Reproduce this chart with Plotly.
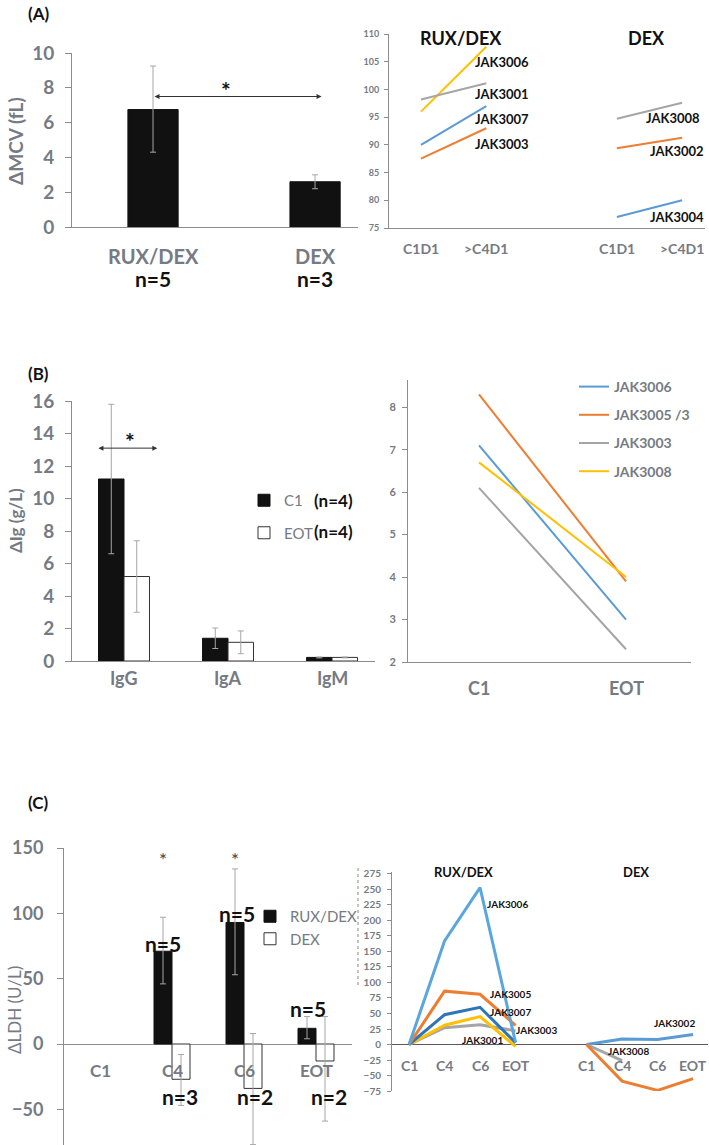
import plotly.graph_objects as go

# ------------------------------------------------------------------ data
# (A) left: change in MCV by arm
mcv_groups = ["RUX/DEX", "DEX"]
mcv_n = ["n=5", "n=3"]
mcv_mean = [6.75, 2.6]
mcv_err_plus = [2.5, 0.4]
mcv_err_minus = [2.45, 0.4]

# (A) right: MCV per patient
mcv_times = ["C1D1", ">C4D1"]
mcv_rux_patients = ["JAK3006", "JAK3001", "JAK3007", "JAK3003"]
mcv_rux_c1d1 = [96.0, 98.2, 90.0, 87.5]
mcv_rux_c4d1 = [107.7, 101.1, 97.0, 93.0]
mcv_dex_patients = ["JAK3008", "JAK3002", "JAK3004"]
mcv_dex_c1d1 = [94.7, 89.4, 77.0]
mcv_dex_c4d1 = [97.6, 91.3, 80.0]
mcv_arm_titles = ["RUX/DEX", "DEX"]

# (B) left: change in immunoglobulins
ig_classes = ["IgG", "IgA", "IgM"]
ig_c1 = [11.2, 1.4, 0.22]
ig_c1_err = [4.6, 0.63, 0.03]
ig_eot = [5.2, 1.15, 0.22]
ig_eot_err = [2.2, 0.7, 0.03]
ig_series = ["C1", "EOT"]
ig_series_n = ["(n=4)", "(n=4)"]

# (B) right: Ig per patient
ig_times = ["C1", "EOT"]
ig_patients = ["JAK3006", "JAK3005 /3", "JAK3003", "JAK3008"]
ig_patient_c1 = [7.1, 8.3, 6.1, 6.7]
ig_patient_eot = [3.0, 3.9, 2.3, 4.0]

# (C) left: change in LDH
ldh_visits = ["C1", "C4", "C6", "EOT"]
ldh_rux = [None, 71, 93, 12]
ldh_rux_plus = [None, 26, 41, 9]
ldh_rux_minus = [None, 25, 40, 8]
ldh_dex = [None, -27, -34, -13]
ldh_dex_plus = [None, 19, 42, 34]
ldh_dex_minus = [None, 20, 43, 46]
ldh_rux_n = [None, "n=5", "n=5", "n=5"]
ldh_dex_n = [None, "n=3", "n=2", "n=2"]
ldh_signif = [False, True, True, False]
ldh_series = ["RUX/DEX", "DEX"]

# (C) right: LDH per patient
ldh_rux_patients = ["JAK3003", "JAK3001", "JAK3007", "JAK3005", "JAK3006"]
ldh_rux_values = [
    [0, 27, 32, 22],
    [0, 31, 45, -3],
    [0, 48, 60, 3],
    [0, 86, 81, 31],
    [0, 167, 253, 3],
]
ldh_dex_patients = ["JAK3002", "JAK3008", "JAK3004"]
ldh_dex_values = [
    [0, 9, 8, 16],
    [0, -26],
    [0, -59, -74, -55],
]

# ------------------------------------------------------------------ styling / layout helpers
W, H = 709, 1145
FONT = "Lato"
GRAY = "#757a83"
AXC = "#8c8c8c"
BLACK = "#111111"
BLUE = "#5B9BD5"
LBLUE = "#5BA6DC"
DBLUE = "#2E75B6"
ORANGE = "#ED7D31"
LGRAY = "#A5A5A5"
YELLOW = "#FFC000"


def fx(px):
    return px / W


def fy(py):
    return 1 - py / H


ERR = dict(color="#a6a6a6", thickness=1, width=3)

fig = go.Figure()

# ---------------- (A) left
mcv_x = list(range(len(mcv_groups)))
fig.add_trace(go.Bar(
    x=mcv_x, y=mcv_mean, width=0.31,
    marker=dict(color=BLACK, line=dict(color=BLACK, width=1)),
    error_y=dict(type="data", symmetric=False, array=mcv_err_plus,
                 arrayminus=mcv_err_minus, **ERR),
    xaxis="x", yaxis="y", showlegend=False))

# ---------------- (A) right
a_rux_x = [0, 1]
a_dex_x = [3, 4]
rux_cols = [YELLOW, LGRAY, BLUE, ORANGE]
dex_cols = [LGRAY, ORANGE, BLUE]
for i, p in enumerate(mcv_rux_patients):
    fig.add_trace(go.Scatter(x=a_rux_x, y=[mcv_rux_c1d1[i], mcv_rux_c4d1[i]],
                             mode="lines", line=dict(color=rux_cols[i], width=2),
                             xaxis="x2", yaxis="y2", showlegend=False, name=p))
for i, p in enumerate(mcv_dex_patients):
    fig.add_trace(go.Scatter(x=a_dex_x, y=[mcv_dex_c1d1[i], mcv_dex_c4d1[i]],
                             mode="lines", line=dict(color=dex_cols[i], width=2),
                             xaxis="x2", yaxis="y2", showlegend=False, name=p))

# ---------------- (B) left
ig_x = list(range(len(ig_classes)))
fig.add_trace(go.Bar(
    x=ig_x, y=ig_c1, width=0.245, offset=-0.245, name=ig_series[0],
    marker=dict(color=BLACK, line=dict(color=BLACK, width=1)),
    error_y=dict(type="data", array=ig_c1_err, **ERR),
    xaxis="x3", yaxis="y3", legend="legend", legendgroup="c1"))
fig.add_trace(go.Bar(
    x=ig_x, y=ig_eot, width=0.245, offset=0, name=ig_series[1],
    marker=dict(color="white", line=dict(color="#333333", width=1)),
    error_y=dict(type="data", array=ig_eot_err, **ERR),
    xaxis="x3", yaxis="y3", legend="legend", legendgroup="eot"))

# ---------------- (B) right
b_cols = [BLUE, ORANGE, LGRAY, YELLOW]
b_x = [0, 1]
for i, p in enumerate(ig_patients):
    fig.add_trace(go.Scatter(x=b_x, y=[ig_patient_c1[i], ig_patient_eot[i]],
                             mode="lines", line=dict(color=b_cols[i], width=2),
                             name=p, xaxis="x4", yaxis="y4", legend="legend2",
                             legendgroup=p))

# ---------------- (C) left
ldh_x = list(range(len(ldh_visits)))
fig.add_trace(go.Bar(
    x=ldh_x, y=ldh_rux, width=0.25, offset=-0.25, name=ldh_series[0],
    marker=dict(color=BLACK, line=dict(color=BLACK, width=1)),
    error_y=dict(type="data", symmetric=False, array=ldh_rux_plus,
                 arrayminus=ldh_rux_minus, **ERR),
    xaxis="x5", yaxis="y5", legend="legend3", legendgroup="rux"))
fig.add_trace(go.Bar(
    x=ldh_x, y=ldh_dex, width=0.25, offset=0, name=ldh_series[1],
    marker=dict(color="white", line=dict(color="#333333", width=1)),
    error_y=dict(type="data", symmetric=False, array=ldh_dex_plus,
                 arrayminus=ldh_dex_minus, **ERR),
    xaxis="x5", yaxis="y5", legend="legend3", legendgroup="dex"))

# ---------------- (C) right
c_rux_x = [0, 1, 2, 3]
c_dex_x = [5, 6, 7, 8]
c_rux_cols = {"JAK3003": LGRAY, "JAK3001": YELLOW, "JAK3007": DBLUE,
              "JAK3005": ORANGE, "JAK3006": LBLUE}
c_dex_cols = {"JAK3002": BLUE, "JAK3008": LGRAY, "JAK3004": ORANGE}
for p, vals in zip(ldh_rux_patients, ldh_rux_values):
    fig.add_trace(go.Scatter(x=c_rux_x[:len(vals)], y=vals, mode="lines",
                             line=dict(color=c_rux_cols[p], width=3),
                             name=p, xaxis="x6", yaxis="y6", showlegend=False))
for p, vals in zip(ldh_dex_patients, ldh_dex_values):
    fig.add_trace(go.Scatter(x=c_dex_x[:len(vals)], y=vals, mode="lines",
                             line=dict(color=c_dex_cols[p], width=3),
                             name=p, xaxis="x6", yaxis="y6", showlegend=False))


# ------------------------------------------------------------------ axes
def xax(d0, d1, rng, anchor, showline=True):
    return dict(domain=[fx(d0), fx(d1)], range=rng, anchor=anchor,
                showline=showline, linecolor=AXC, linewidth=1,
                showticklabels=False, ticks="", showgrid=False,
                zeroline=False, fixedrange=True)


def yax(top, bot, rng, anchor, tickvals, size, ticklen, standoff, zeroline=False,
        zcolor=AXC):
    return dict(domain=[fy(bot), fy(top)], range=rng, anchor=anchor,
                showline=True, linecolor=AXC, linewidth=1,
                ticks="outside", tickcolor=AXC, ticklen=ticklen,
                tickvals=tickvals, ticklabelstandoff=standoff,
                tickfont=dict(family=FONT, size=size, color=GRAY, weight="bold"),
                showgrid=False, zeroline=zeroline, zerolinecolor=zcolor,
                zerolinewidth=1, fixedrange=True)


layout = dict(
    width=W, height=H, margin=dict(l=0, r=0, t=0, b=0, autoexpand=False),
    paper_bgcolor="white", plot_bgcolor="white",
    font=dict(family=FONT, color=GRAY),
    xaxis=xax(72, 358, [-0.5, 1.265], "y"),
    yaxis=yax(53, 227, [0, 10], "x", list(range(0, 11, 2)), 19, 6, 7),
    xaxis2=xax(389, 705, [-0.49, 4.35], "y2"),
    yaxis2=yax(34, 228, [75, 110], "x2", list(range(75, 111, 5)), 9, 4, 3),
    xaxis3=xax(72, 375, [-0.5, 2.413], "y3"),
    yaxis3=yax(401, 661, [0, 16], "x3", list(range(0, 17, 2)), 19, 6, 7),
    xaxis4=xax(408, 691, [-0.483, 1.442], "y4"),
    yaxis4=yax(380, 662, [2, 8.64], "x4", list(range(2, 9)), 11, 5, 4),
    xaxis5=xax(64, 352, [-0.5, 3.5], "y5", showline=False),
    yaxis5=yax(848, 1145, [-77.3, 150], "x5", [-50, 0, 50, 100, 150], 18, 6, 10,
               zeroline=True),
    xaxis6=xax(392, 708, [-0.48, 8.42], "y6", showline=False),
    yaxis6=yax(872, 1091, [-75, 278.2], "x6", list(range(-75, 276, 25)), 10, 4, 4,
               zeroline=True, zcolor="#595959"),
    legend=dict(x=fx(244), y=fy(484), xanchor="left", yanchor="top",
                bgcolor="rgba(0,0,0,0)", traceorder="grouped", tracegroupgap=10,
                font=dict(family=FONT, size=15, color=GRAY)),
    legend2=dict(x=fx(574), y=fy(371), xanchor="left", yanchor="top",
                 bgcolor="rgba(0,0,0,0)", traceorder="grouped", tracegroupgap=7,
                 font=dict(family=FONT, size=14, color=GRAY, weight="bold")),
    legend3=dict(x=fx(250), y=fy(900), xanchor="left", yanchor="top",
                 bgcolor="rgba(0,0,0,0)", traceorder="grouped", tracegroupgap=0,
                 font=dict(family=FONT, size=15, color=GRAY)),
    bargap=0.5,
)

ann = []


def text(x, y, t, size, color=BLACK, bold=True, xref="paper", yref="paper",
         xanchor="center", yanchor="middle", angle=0):
    ann.append(dict(x=x, y=y, text=t, xref=xref, yref=yref, showarrow=False,
                    xanchor=xanchor, yanchor=yanchor, textangle=angle,
                    font=dict(family=FONT, size=size, color=color,
                              weight="bold" if bold else "normal")))


# panel letters
text(fx(38), fy(13), "(A)", 17)
text(fx(38), fy(373), "(B)", 17)
text(fx(38), fy(802), "(C)", 17)

# y-axis titles
text(fx(15), fy(141), "ΔMCV (fL)", 19, GRAY, True, angle=-90)
text(fx(15), fy(521), "ΔIg (g/L)", 17, GRAY, True, angle=-90)
text(fx(15), fy(1010), "ΔLDH (U/L)", 17, GRAY, False, angle=-90)

# (A) left category labels
for xi, g, n in zip(mcv_x, mcv_groups, mcv_n):
    text(xi, fy(256), g, 20, GRAY, xref="x")
    text(xi, fy(278), n, 21, BLACK, xref="x")
# significance arrow (A)
ann.append(dict(x=1.04, y=7.5, ax=0, ay=7.5, xref="x", yref="y", axref="x", ayref="y",
                text="", showarrow=True, arrowhead=2, arrowside="end+start",
                arrowsize=1, arrowwidth=1, arrowcolor="#333333"))
text(0.45, 7.9, "*", 23, BLACK, True, xref="x", yref="y")

# (A) right labels
for xi, t in zip(a_rux_x + a_dex_x, mcv_times + mcv_times):
    text(xi, fy(248), t, 14, GRAY, xref="x2")
text(0.61, 109.3, mcv_arm_titles[0], 18, BLACK, xref="x2", yref="y2")
text(3.46, 109.3, mcv_arm_titles[1], 18, BLACK, xref="x2", yref="y2")
a_rux_lab_pos = [(1.24, 104.9), (1.24, 99.2), (1.24, 94.7), (1.24, 90.2)]
a_dex_lab_pos = [(3.86, 94.8), (3.92, 88.9), (3.92, 77.0)]
for p, (lx, ly) in zip(mcv_rux_patients, a_rux_lab_pos):
    text(lx, ly, p, 13, BLACK, xref="x2", yref="y2")
for p, (lx, ly) in zip(mcv_dex_patients, a_dex_lab_pos):
    text(lx, ly, p, 13, BLACK, xref="x2", yref="y2")

# (B) left labels
for xi, c in zip(ig_x, ig_classes):
    text(xi, fy(678), c, 18, GRAY, xref="x3")
ann.append(dict(x=0.32, y=13.1, ax=-0.26, ay=13.1, xref="x3", yref="y3",
                axref="x3", ayref="y3", text="", showarrow=True, arrowhead=2,
                arrowside="end+start", arrowsize=1, arrowwidth=1,
                arrowcolor="#333333"))
text(0.06, 13.55, "*", 23, BLACK, True, xref="x3", yref="y3")
text(fx(312), fy(500), ig_series_n[0], 17, BLACK, xanchor="left")
text(fx(312), fy(531), ig_series_n[1], 17, BLACK, xanchor="left")

# (B) right labels
for xi, t in zip(b_x, ig_times):
    text(xi, fy(688), t, 18, GRAY, xref="x4")

# (C) left labels
for xi, t in zip(ldh_x, ldh_visits):
    text(xi, -20, t, 17, GRAY, xref="x5", yref="y5")
rux_n_pos = [None, (0.875, 77), (1.9, 100), (2.89, 27)]
dex_n_pos = [None, (1.11, -40), (2.15, -40), (3.18, -40)]
for n, pos in zip(ldh_rux_n, rux_n_pos):
    if n:
        text(pos[0], pos[1], n, 21, BLACK, xref="x5", yref="y5")
for n, pos in zip(ldh_dex_n, dex_n_pos):
    if n:
        text(pos[0], pos[1], n, 21, BLACK, xref="x5", yref="y5")
for xi, s in zip(ldh_x, ldh_signif):
    if s:
        text(xi - 0.125, 141, "*", 19, "#444444", False, xref="x5", yref="y5")

# (C) right labels
for xi, t in zip(c_rux_x + c_dex_x, ldh_visits + ldh_visits):
    text(xi, -34, t, 14, GRAY, xref="x6", yref="y6")
text(1.52, 278, ldh_series[0], 13, BLACK, xref="x6", yref="y6")
text(6.39, 278, ldh_series[1], 13, BLACK, xref="x6", yref="y6")
c_rux_lab_pos = {"JAK3006": (2.76, 226), "JAK3005": (2.85, 81), "JAK3007": (2.85, 52),
                 "JAK3003": (3.6, 23), "JAK3001": (2.06, 8)}
c_dex_lab_pos = {"JAK3002": (7.49, 34), "JAK3008": (6.17, -10), "JAK3004": (7.52, -89)}
for p in ldh_rux_patients:
    text(*c_rux_lab_pos[p], p, 10, BLACK, xref="x6", yref="y6")
for p in ldh_dex_patients:
    text(*c_dex_lab_pos[p], p, 10, BLACK, xref="x6", yref="y6")

layout["annotations"] = ann
layout["shapes"] = [dict(type="line", xref="paper", yref="paper",
                         x0=fx(358), x1=fx(358), y0=fy(868), y1=fy(987),
                         line=dict(color="#b0b0b0", width=1.5, dash="dot"))]

fig.update_layout(**layout)
fig.write_html("out.html", config={"displayModeBar": False},
               post_script="document.body.style.margin='0px';")
